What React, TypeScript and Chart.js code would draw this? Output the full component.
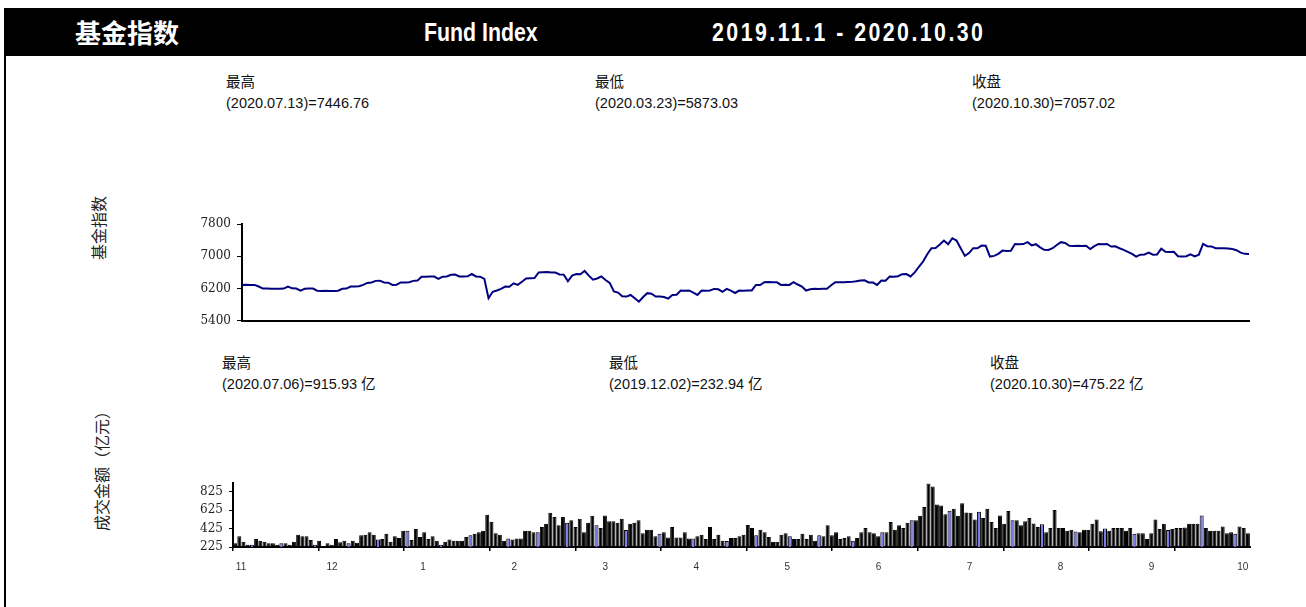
import React, { useEffect, useRef } from 'react';
import { Chart, registerables } from 'chart.js';

Chart.register(...registerables);

// ---------------- DATA ----------------
const indexValues: number[] = [
  6290, 6292, 6288, 6290, 6250, 6200, 6198, 6195, 6197, 6195,
  6200, 6250, 6205, 6200, 6150, 6195, 6200, 6198, 6145, 6140,
  6142, 6140, 6138, 6145, 6195, 6200, 6250, 6248, 6255, 6290,
  6340, 6350, 6390, 6395, 6350, 6345, 6290, 6295, 6350, 6348,
  6355, 6390, 6400, 6490, 6495, 6500, 6496, 6440, 6495, 6500,
  6540, 6545, 6500, 6498, 6502, 6560, 6500, 6495, 6440, 5960,
  6120, 6150, 6190, 6250, 6245, 6330, 6290, 6370, 6450, 6455,
  6460, 6600, 6605, 6610, 6600, 6595, 6550, 6545, 6380, 6520,
  6560, 6555, 6640, 6520, 6420, 6450, 6500, 6410, 6340, 6130,
  6100, 6010, 6000, 6040, 5960, 5873.03, 5990, 6085, 6070, 6000,
  6005, 5990, 5950, 6040, 6045, 6150, 6148, 6152, 6100, 6040,
  6150, 6148, 6150, 6190, 6180, 6120, 6190, 6150, 6090, 6150,
  6148, 6150, 6152, 6290, 6285, 6355, 6360, 6358, 6355, 6290,
  6295, 6290, 6360, 6300, 6250, 6150, 6180, 6195, 6190, 6195,
  6192, 6280, 6355, 6358, 6355, 6360, 6365, 6380, 6400, 6405,
  6350, 6348, 6290, 6400, 6395, 6500, 6495, 6505, 6555, 6560,
  6500, 6600, 6740, 6870, 7050, 7200, 7205, 7290, 7390, 7300,
  7446.76, 7390, 7200, 7010, 7080, 7200, 7198, 7265, 7260, 6992,
  7010, 7060, 7140, 7130, 7135, 7305, 7300, 7302, 7350, 7270,
  7300, 7220, 7160, 7155, 7200, 7280, 7350, 7330, 7260, 7255,
  7258, 7256, 7260, 7180, 7250, 7305, 7300, 7305, 7240, 7245,
  7200, 7160, 7110, 7060, 6990, 7040, 7045, 7090, 7040, 7045,
  7190, 7110, 7105, 7110, 7000, 6995, 7000, 7050, 6995, 7040,
  7305, 7250, 7245, 7200, 7198, 7200, 7195, 7180, 7150, 7090,
  7060, 7057.02,
];

const turnoverValues: number[] = [
  266, 341, 283, 249, 249, 311, 293, 283, 266, 266,
  249, 266, 266, 249, 283, 359, 341, 341, 300, 249,
  293, 232.94, 266, 249, 311, 276, 293, 266, 293, 272,
  352, 359, 386, 359, 307, 311, 369, 283, 341, 324,
  403, 403, 300, 421, 334, 386, 311, 341, 293, 249,
  283, 307, 293, 293, 293, 334, 352, 369, 386, 403,
  575, 499, 375, 359, 293, 318, 307, 318, 318, 403,
  403, 386, 386, 444, 478, 599, 551, 462, 551, 489,
  517, 444, 534, 386, 489, 565, 462, 431, 568, 506,
  506, 489, 534, 410, 478, 489, 517, 375, 413, 413,
  341, 369, 386, 328, 444, 328, 328, 386, 318, 318,
  341, 359, 311, 444, 311, 359, 293, 290, 324, 324,
  341, 359, 465, 431, 352, 413, 386, 334, 283, 283,
  359, 375, 341, 311, 311, 369, 311, 359, 293, 352,
  341, 462, 352, 386, 311, 324, 341, 293, 324, 386,
  431, 386, 375, 341, 386, 386, 496, 413, 462, 431,
  489, 517, 517, 565, 661, 915.93, 884, 688, 678, 581,
  620, 643, 565, 702, 602, 599, 524, 609, 540, 643,
  496, 431, 568, 478, 616, 517, 517, 462, 506, 540,
  482, 444, 472, 386, 431, 627, 431, 431, 403, 413,
  393, 386, 413, 413, 478, 524, 396, 427, 403, 431,
  431, 431, 403, 431, 369, 375, 375, 311, 375, 524,
  421, 478, 410, 421, 431, 431, 437, 478, 478, 478,
  568, 431, 403, 403, 403, 448, 375, 386, 369, 448,
  431, 375,
];

const highlightedBars: number[] = [
  4, 11, 19, 27, 34, 41, 49, 56, 65, 72, 79, 86, 93, 101, 109, 117,
  124, 132, 139, 147, 154, 161, 170, 177, 185, 192, 200, 207, 214, 222, 230, 238,
];

const dayLabels: string[] = indexValues.map((_, i) => String(i + 1));
const monthLabels: string[] = ['11', '12', '1', '2', '3', '4', '5', '6', '7', '8', '9', '10'];
const indexTicks: number[] = [5400, 6200, 7000, 7800];
const turnoverTicks: number[] = [225, 425, 625, 825];

const LINE_COLOR = '#000080';
const BAR_COLOR = '#000000';
const BAR_HIGHLIGHT = '#7b7be8';
const TICK_FONT = { family: 'DejaVu Serif', size: 12 };
const plainNumber = (v: any) => String(v);

function IndexChart() {
  const ref = useRef<HTMLCanvasElement | null>(null);
  useEffect(() => {
    if (!ref.current) return;
    const chart = new Chart(ref.current, {
      type: 'line',
      data: {
        labels: dayLabels,
        datasets: [
          {
            data: indexValues,
            borderColor: LINE_COLOR,
            borderWidth: 2,
            pointRadius: 0,
            tension: 0,
            fill: false,
          },
        ],
      },
      options: {
        animation: false,
        responsive: false,
        maintainAspectRatio: false,
        layout: { padding: { left: 192, right: 57, top: 20, bottom: 13 } },
        plugins: { legend: { display: false }, tooltip: { enabled: false } },
        scales: {
          x: {
            type: 'category',
            offset: false,
            grid: { display: false, drawTicks: false },
            ticks: { display: false },
            border: { display: true, color: '#000', width: 2 },
            afterFit: (s: any) => { s.height = 0; },
          },
          y: {
            min: 5400,
            max: 7800,
            afterBuildTicks: (s: any) => { s.ticks = indexTicks.map((v) => ({ value: v })); },
            grid: { display: true, drawOnChartArea: false, drawTicks: true, tickLength: 5, color: '#000' },
            border: { display: true, color: '#000', width: 2 },
            ticks: { padding: 6, color: '#222', font: TICK_FONT, callback: plainNumber },
            afterFit: (s: any) => { s.width = 50; },
          },
        },
      } as any,
    });
    return () => chart.destroy();
  }, []);
  return (
    <canvas
      ref={ref}
      width={1306}
      height={130}
      style={{ position: 'absolute', left: 0, top: 204, width: 1306, height: 130, display: 'block' }}
    />
  );
}

function TurnoverChart() {
  const ref = useRef<HTMLCanvasElement | null>(null);
  useEffect(() => {
    if (!ref.current) return;
    const hl = new Set(highlightedBars);
    const colors = turnoverValues.map((_, i) => (hl.has(i) ? BAR_HIGHLIGHT : BAR_COLOR));
    const chart = new Chart(ref.current, {
      type: 'bar',
      data: {
        labels: dayLabels,
        datasets: [
          {
            data: turnoverValues,
            backgroundColor: colors,
            borderColor: '#000',
            borderWidth: 1,
            barPercentage: 0.95,
            categoryPercentage: 1,
            xAxisID: 'x',
            yAxisID: 'y',
          },
        ],
      },
      options: {
        animation: false,
        responsive: false,
        maintainAspectRatio: false,
        layout: { padding: { left: 183, right: 56, top: 10, bottom: 25 } },
        plugins: { legend: { display: false }, tooltip: { enabled: false } },
        scales: {
          x: {
            type: 'category',
            position: 'bottom',
            weight: 0,
            offset: true,
            grid: { display: false, drawTicks: false },
            ticks: { display: false },
            border: { display: true, color: '#000', width: 2 },
            afterFit: (s: any) => { s.height = 0; },
          },
          xt: {
            type: 'linear',
            position: 'bottom',
            weight: 1,
            offset: false,
            min: 0,
            max: 11.88,
            afterBuildTicks: (s: any) => { s.ticks = monthLabels.map((_, k) => ({ value: k })); },
            ticks: { display: false },
            grid: { display: true, offset: false, drawOnChartArea: false, drawTicks: true, tickLength: 4, color: '#000', lineWidth: 1.5 },
            border: { display: false },
            afterFit: (s: any) => { s.height = 5; },
          },
          xl: {
            type: 'linear',
            position: 'bottom',
            weight: 2,
            offset: false,
            min: -0.088,
            max: 11.08,
            afterBuildTicks: (s: any) => { s.ticks = monthLabels.map((_, k) => ({ value: k })); },
            ticks: {
              autoSkip: false,
              maxRotation: 0,
              padding: 9,
              color: '#333',
              font: { family: 'Liberation Sans', size: 10 },
              callback: (v: any) => monthLabels[Math.round(Number(v))] ?? '',
            },
            grid: { display: false, offset: false, drawTicks: false },
            border: { display: false },
            afterFit: (s: any) => { s.height = 30; },
          },
          y: {
            min: 225,
            max: 920,
            beginAtZero: false,
            afterBuildTicks: (s: any) => { s.ticks = turnoverTicks.map((v) => ({ value: v })); },
            grid: { display: true, drawOnChartArea: false, drawTicks: true, tickLength: 4, color: '#000' },
            border: { display: true, color: '#000', width: 2 },
            ticks: { padding: 6, color: '#222', font: TICK_FONT, callback: plainNumber },
            afterFit: (s: any) => { s.width = 50; },
          },
        },
      } as any,
    });
    return () => chart.destroy();
  }, []);
  return (
    <canvas
      ref={ref}
      width={1306}
      height={137}
      style={{ position: 'absolute', left: 0, top: 470, width: 1306, height: 137, display: 'block' }}
    />
  );
}

const annoStyle: React.CSSProperties = {
  position: 'absolute',
  fontFamily: "'Liberation Sans', Arial, 'Noto Sans CJK SC', sans-serif",
  fontSize: 14.5,
  lineHeight: '21px',
  color: '#111',
  whiteSpace: 'nowrap',
};

function Anno({ x, y, title, text }: { x: number; y: number; title: string; text: string }) {
  return (
    <div style={{ ...annoStyle, left: x, top: y }}>
      <div>{title}</div>
      <div>{text}</div>
    </div>
  );
}

function VTitle({ cx, cy, text }: { cx: number; cy: number; text: string }) {
  return (
    <div
      style={{
        position: 'absolute',
        left: cx,
        top: cy,
        transform: 'translate(-50%, -50%) rotate(-90deg)',
        fontFamily: "'Noto Sans CJK SC', sans-serif",
        fontSize: 16,
        lineHeight: '18px',
        color: '#222',
        whiteSpace: 'nowrap',
      }}
    >
      {text}
    </div>
  );
}

const headStyle: React.CSSProperties = {
  position: 'absolute',
  top: 0,
  height: 48,
  lineHeight: '48px',
  color: '#fff',
  fontWeight: 'bold',
  whiteSpace: 'nowrap',
  transformOrigin: 'left center',
};

export default function App() {
  return (
    <div
      style={{
        position: 'fixed',
        left: 0,
        top: 0,
        width: 1306,
        height: 607,
        background: '#fff',
        overflow: 'hidden',
      }}
    >
      <div style={{ position: 'absolute', left: 4, top: 8, width: 2, height: 599, background: '#000' }} />
      <div style={{ position: 'absolute', left: 4, top: 8, right: 0, height: 48, background: '#000' }}>
        <div style={{ ...headStyle, left: 71, fontFamily: "'Noto Sans CJK SC', sans-serif", fontSize: 26 }}>基金指数</div>
        <div style={{ ...headStyle, left: 420, fontFamily: "'Liberation Sans', Arial, sans-serif", fontSize: 26, transform: 'scaleX(0.82)' }}>Fund Index</div>
        <div style={{ ...headStyle, left: 708, fontFamily: "'Liberation Sans', Arial, sans-serif", fontSize: 26, letterSpacing: 3, transform: 'scaleX(0.82)' }}>2019.11.1 - 2020.10.30</div>
      </div>

      <Anno x={226} y={72} title="最高" text="(2020.07.13)=7446.76" />
      <Anno x={595} y={72} title="最低" text="(2020.03.23)=5873.03" />
      <Anno x={972} y={72} title="收盘" text="(2020.10.30)=7057.02" />

      <Anno x={222} y={353} title="最高" text="(2020.07.06)=915.93 亿" />
      <Anno x={609} y={353} title="最低" text="(2019.12.02)=232.94 亿" />
      <Anno x={990} y={353} title="收盘" text="(2020.10.30)=475.22 亿" />

      <VTitle cx={98} cy={228} text="基金指数" />
      <VTitle cx={101} cy={467} text="成交金额（亿元）" />

      <IndexChart />
      <TurnoverChart />
    </div>
  );
}
